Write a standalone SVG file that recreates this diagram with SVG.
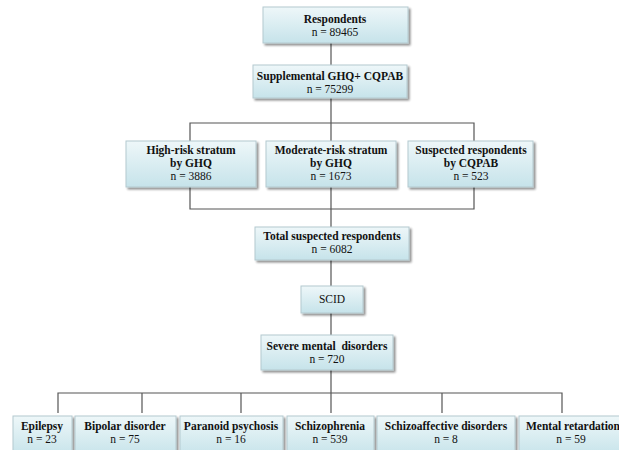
<svg xmlns="http://www.w3.org/2000/svg" width="619" height="450" viewBox="0 0 619 450">
<defs>
<linearGradient id="g" x1="0" y1="0" x2="0" y2="1">
<stop offset="0" stop-color="#eef7f9"/>
<stop offset="1" stop-color="#c6e3ea"/>
</linearGradient>
<filter id="sh" x="-10%" y="-10%" width="125%" height="140%">
<feGaussianBlur in="SourceAlpha" stdDeviation="1.2"/>
<feOffset dx="1.5" dy="2" result="b"/>
<feComponentTransfer><feFuncA type="linear" slope="0.45"/></feComponentTransfer>
<feMerge><feMergeNode/><feMergeNode in="SourceGraphic"/></feMerge>
</filter>
</defs>
<style>
.box{fill:url(#g);stroke:#b4c9cf;stroke-width:1;filter:url(#sh)}
text{font-family:"Liberation Serif","Times New Roman",serif;font-size:11.5px;fill:#111;text-anchor:middle}
.b{font-weight:bold}
.c{fill:none;stroke:#555;stroke-width:1.2}
</style>
<rect width="619" height="450" fill="#fff"/>
<g id="connectors">
<path class="c" d="M331,43V65"/>
<path class="c" d="M331,98V123M190,141V123H474V141M331,123V141"/>
<path class="c" d="M190,187V209H474V187M331,187V227"/>
<path class="c" d="M331,260V286M331,313V335"/>
<path class="c" d="M331,370V393M58,413V393H562V413M142,393V413M241,393V413M331,393V413M442,393V413"/>
</g>
<g id="n1"><rect class="box" x="263" y="7" width="145" height="36"/><text class="b" x="335" y="23">Respondents</text><text x="335" y="36">n = 89465</text></g>
<g id="n2"><rect class="box" x="253" y="65" width="154" height="33"/><text class="b" x="330" y="80">Supplemental GHQ+ CQPAB</text><text x="330" y="93">n = 75299</text></g>
<g id="n3"><rect class="box" x="126" y="141" width="130" height="46"/><text class="b" x="191" y="154">High-risk stratum</text><text class="b" x="191" y="167">by GHQ</text><text x="191" y="180">n = 3886</text></g>
<g id="n4"><rect class="box" x="266" y="141" width="130" height="46"/><text class="b" x="331" y="154">Moderate-risk stratum</text><text class="b" x="331" y="167">by GHQ</text><text x="331" y="180">n = 1673</text></g>
<g id="n5"><rect class="box" x="408" y="141" width="125" height="46"/><text class="b" x="471" y="154">Suspected respondents</text><text class="b" x="471" y="167">by CQPAB</text><text x="471" y="180">n = 523</text></g>
<g id="n6"><rect class="box" x="255" y="227" width="154" height="33"/><text class="b" x="332" y="240">Total suspected respondents</text><text x="332" y="253">n = 6082</text></g>
<g id="n7"><rect class="box" x="301" y="286" width="62" height="27"/><text x="332" y="303">SCID</text></g>
<g id="n8"><rect class="box" x="261" y="335" width="132" height="35"/><text class="b" x="327" y="350" xml:space="preserve">Severe mental  disorders</text><text x="327" y="363">n = 720</text></g>
<g id="n9"><rect class="box" x="13" y="416" width="59" height="40"/><text class="b" x="42" y="430">Epilepsy</text><text x="42" y="443">n = 23</text></g>
<g id="n10"><rect class="box" x="75" y="416" width="101" height="40"/><text class="b" x="125" y="430">Bipolar disorder</text><text x="125" y="443">n = 75</text></g>
<g id="n11"><rect class="box" x="180" y="416" width="103" height="40"/><text class="b" x="231" y="430">Paranoid psychosis</text><text x="231" y="443">n = 16</text></g>
<g id="n12"><rect class="box" x="287" y="416" width="87" height="40"/><text class="b" x="330" y="430">Schizophrenia</text><text x="330" y="443">n = 539</text></g>
<g id="n13"><rect class="box" x="377" y="416" width="138" height="40"/><text class="b" x="446" y="430">Schizoaffective disorders</text><text x="446" y="443">n = 8</text></g>
<g id="n14"><rect class="box" x="519" y="416" width="110" height="40"/><text class="b" x="573" y="430">Mental retardation</text><text x="571" y="443">n = 59</text></g>
</svg>
